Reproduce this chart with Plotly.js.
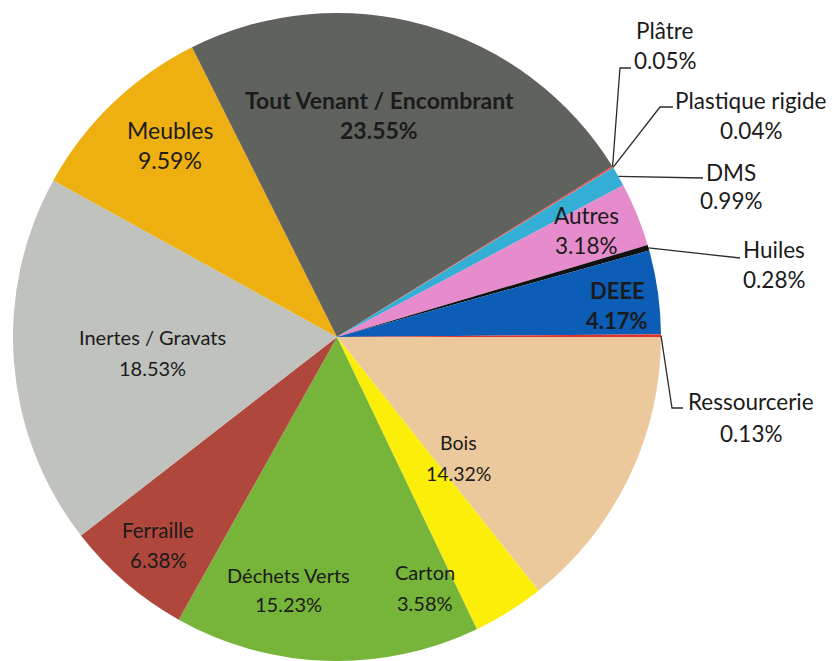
<!DOCTYPE html>
<html>
<head>
<meta charset="utf-8">
<script src="https://cdn.plot.ly/plotly-3.0.1.min.js"></script>
<style>
  html, body { margin: 0; padding: 0; background: #fff; }
  #chart { width: 832px; height: 661px; }
</style>
</head>
<body>
<div id="chart"></div>
<script>
// slice data, clockwise from 3 o'clock
const categories = ['Bois', 'Carton', 'Déchets Verts', 'Ferraille', 'Inertes / Gravats', 'Meubles',
                    'Tout Venant / Encombrant', 'Plâtre', 'Plastique rigide', 'DMS', 'Autres',
                    'Huiles', 'DEEE', 'Ressourcerie'];
const shares = [14.32, 3.58, 15.23, 6.38, 18.53, 9.59, 23.55, 0.05, 0.04, 0.99, 3.18, 0.28, 4.17, 0.13];
const sliceColors = ['#EBC99C', '#FBEF0A', '#77B43A', '#B0473D', '#BFC2BD', '#EEAF10', '#5F625D',
                     '#D9342B', '#E04438', '#35AED6', '#E68BCB', '#111111', '#0B5DB5', '#E0312A'];

// inside labels: centre x, name line y, percent line y, font size, bold
const insideLabels = {
    'Bois': [458, 442, 473, 19.5, false],
    'Carton': [425, 572, 603, 20, false],
    'Déchets Verts': [288, 575, 604, 20, false],
    'Ferraille': [158, 530, 560, 20.5, false],
    'Inertes / Gravats': [152, 337, 368, 20, false],
    'Meubles': [170, 130, 160, 23, false],
    'Tout Venant / Encombrant': [379, 100, 130, 23, true],
    'Autres': [586, 215, 245, 22.5, false],
    'DEEE': [617, 290, 320, 22, true]
};

// outside labels: text centre x, name y, pct y, then leader bends
const outsideLabels = {
    'Plâtre': {x: 665, y1: 30, y2: 60, bends: [[620, 68], [631, 68]]},
    'Plastique rigide': {x: 751, y1: 100, y2: 131, bends: [[660, 107], [673, 107]]},
    'DMS': {x: 731, y1: 172, y2: 201, bends: [[703, 178]]},
    'Huiles': {x: 774, y1: 250, y2: 280, bends: [[740, 258]]},
    'Ressourcerie': {x: 751, y1: 402, y2: 433, bends: [[672, 408], [683, 408]]}
};
const outsideSize = 22.5;

const W = 832, H = 661;
const pieLeft = 13, pieRight = 661, pieTop = 13, pieBottom = 661;
const R = Math.min(pieRight - pieLeft, pieBottom - pieTop) / 2;
const cx = (pieLeft + pieRight) / 2;
const cy = (pieTop + pieBottom) / 2;

function px(x){ return x / W; }
function py(y){ return 1 - y / H; }

let annotations = [];
let shapes = [];

function addText(txt, x, y, size, bold){
    annotations.push({
        text: bold ? '<b>' + txt + '</b>' : txt,
        x: px(x), y: py(y), xref: 'paper', yref: 'paper',
        xanchor: 'center', yanchor: 'middle',
        showarrow: false,
        font: {family: 'Lato, "DejaVu Sans", sans-serif', size: size, color: '#1b1b1b'}
    });
}

const total = shares.reduce((a, b) => a + b, 0);
let cumulative = 0;
categories.forEach((name, i) => {
    const mid = (cumulative + shares[i] / 2) / total;
    cumulative += shares[i];
    const pct = shares[i].toFixed(2) + '%';

    if (insideLabels[name]) {
        const p = insideLabels[name];
        addText(name, p[0], p[1], p[3], p[4]);
        addText(pct, p[0], p[2], p[3], p[4]);
    } else if (outsideLabels[name]) {
        const o = outsideLabels[name];
        addText(name, o.x, o.y1, outsideSize, false);
        addText(pct, o.x, o.y2, outsideSize, false);
        // anchor on the rim at the slice's mid angle (clockwise from 3 o'clock)
        const a = mid * 2 * Math.PI;
        const ax = cx + R * Math.cos(a);
        const ay = cy + R * Math.sin(a);
        let path = 'M ' + px(ax) + ' ' + py(ay);
        o.bends.forEach(b => { path += ' L ' + px(b[0]) + ' ' + py(b[1]); });
        shapes.push({
            type: 'path', xref: 'paper', yref: 'paper', path: path,
            line: {color: '#2b2b2b', width: 1.3}
        });
    }
});

const trace = {
    type: 'pie',
    labels: categories,
    values: shares,
    sort: false,
    direction: 'clockwise',
    rotation: 90,
    textinfo: 'none',
    hoverinfo: 'label+percent',
    marker: {colors: sliceColors, line: {width: 0}},
    domain: {x: [px(pieLeft), px(pieRight)], y: [py(pieBottom), py(pieTop)]}
};

const layout = {
    width: W,
    height: H,
    margin: {l: 0, r: 0, t: 0, b: 0},
    paper_bgcolor: '#ffffff',
    showlegend: false,
    annotations: annotations,
    shapes: shapes
};

Plotly.newPlot('chart', [trace], layout, {displayModeBar: false, staticPlot: true});
</script>
</body>
</html>
